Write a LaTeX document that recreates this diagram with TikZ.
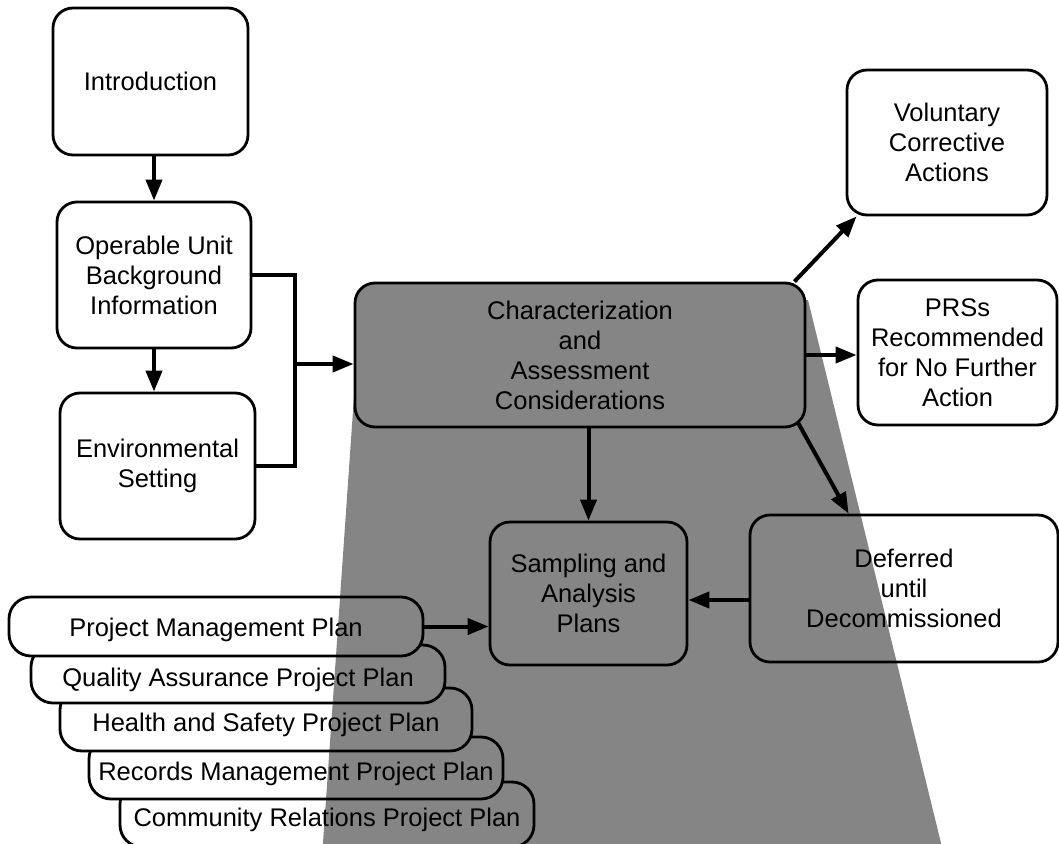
\documentclass[tikz,border=0pt]{standalone}
\usepackage{fontspec}
\setmainfont{Liberation Sans}
\usetikzlibrary{arrows.meta,calc}
\begin{document}
\begin{tikzpicture}[x=1pt,y=-1pt,
  box/.style={draw, line width=2.8pt, rounded corners=20pt, fill=white,
    align=center, inner sep=0pt, font=\fontsize{25.5}{30}\selectfont},
  plan/.style={box, rounded corners=22pt, text height=24pt, text depth=0pt},
  conn/.style={line width=4pt, line join=miter},
  arr/.style={line width=4pt, -{Triangle[length=21pt,width=16pt]}},
  halftone/.style={fill=black, fill opacity=0.48}]
\useasboundingbox (0,0) rectangle (1059,843);

% stack of project plans, back to front
\node[plan, minimum width=414pt, minimum height=65pt] (crpp) at (327,814.5) {Community Relations Project Plan};
\node[plan, minimum width=414pt, minimum height=62pt] (rmpp) at (296,768) {Records Management Project Plan};
\node[plan, minimum width=412pt, minimum height=63pt] (hspp) at (266,719.5) {Health and Safety Project Plan};
\node[plan, minimum width=414pt, minimum height=58pt] (qapp) at (238,674) {Quality Assurance Project Plan};
\node[plan, minimum width=414pt, minimum height=59pt, text height=20pt] (pmp) at (216,626.5) {Project Management Plan};

% main flow boxes
\node[box, minimum width=195pt, minimum height=147pt] (intro) at (150.5,81.5) {Introduction};
\node[box, minimum width=194pt, minimum height=146pt] (op) at (154,275) {Operable Unit\\Background\\Information};
\node[box, minimum width=195pt, minimum height=146pt] (env) at (157.5,466) {Environmental\\Setting};
\node[box, minimum width=450pt, minimum height=144pt] (char) at (580,355) {Characterization\\and\\Assessment\\Considerations};
\node[box, minimum width=200pt, minimum height=145pt] (vol) at (947,142.5) {Voluntary\\Corrective\\Actions};
\node[box, minimum width=199pt, minimum height=145pt] (prs) at (957.5,352.5) {PRSs\\Recommended\\for No Further\\Action};
\node[box, minimum width=197pt, minimum height=143pt] (samp) at (588.5,593.5) {Sampling and\\Analysis\\Plans};
\node[box, minimum width=308pt, minimum height=147pt] (def) at (904,588.5) {Deferred\\until\\Decommissioned};

% shaded band spreading down from the characterization step
\fill[halftone] [rounded corners=18pt] (355,283) rectangle (805,427)
  [sharp corners] (360,310) -- (322.5,850) -- (942.7,850) -- (808,300) -- (780,300) -- cycle;

% connectors
\coordinate (bus) at (295,364);
\coordinate (dl) at (0,600);
\coordinate (cv) at ($(char.north east)+(-12,0)$);
\coordinate (vv) at ($(vol.south west)+(11,0)$);
\coordinate (cd) at ($(char.south east)+(-8,-5)$);
\coordinate (dd) at ($(def.north west)+(100,0)$);

\draw[arr] (op.north |- intro.south) -- (op.north);
\draw[arr] (op.south) -- (op.south |- env.north);
\draw[conn] (op.east) -| (bus) |- (env.east);
\draw[arr] (bus) -- (bus -| char.west);
\draw[arr] (cv) -- (vv);
\draw[arr] (char.east) -- (char.east -| prs.west);
\draw[arr] (cd) -- (dd);
\draw[arr] (samp.north |- char.south) -- (samp.north);
\draw[arr] (def.west |- dl) -- (samp.east |- dl);
\draw[arr] (pmp.east) -- (pmp.east -| samp.west);
\end{tikzpicture}
\end{document}
